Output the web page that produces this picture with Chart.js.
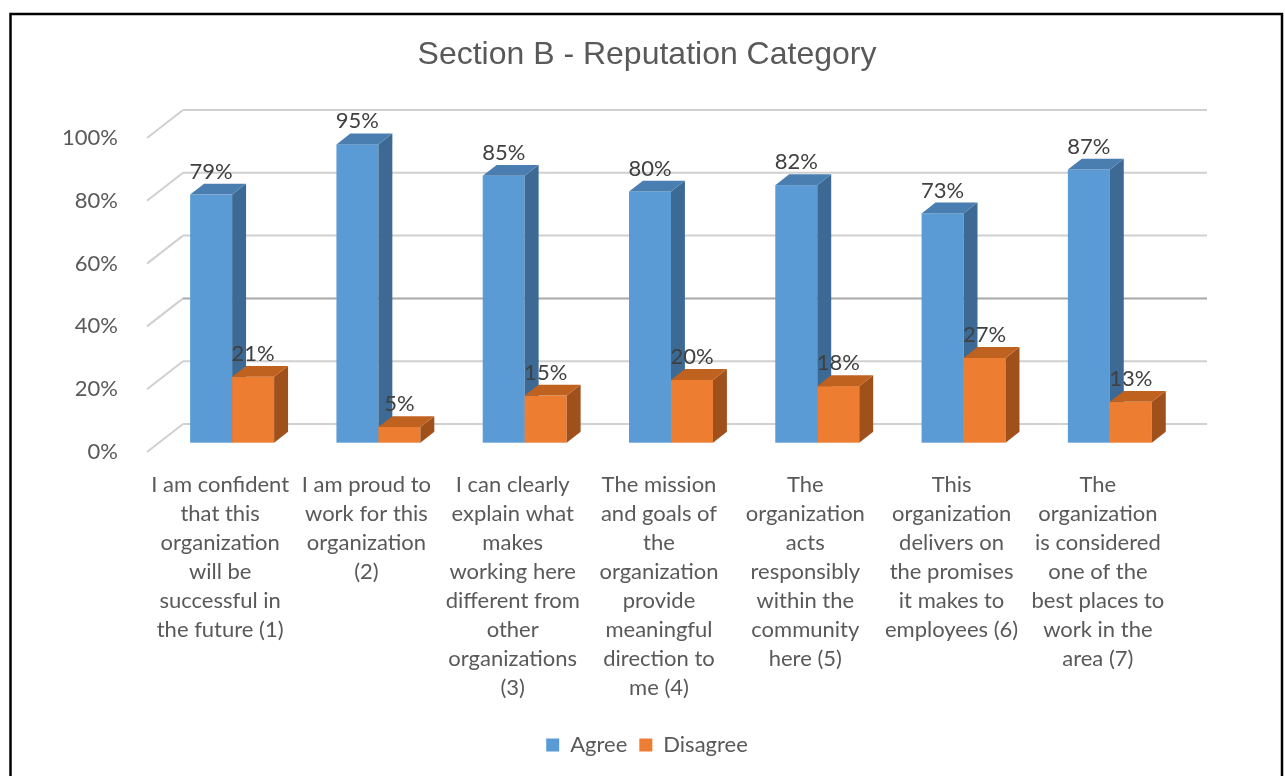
<!DOCTYPE html>
<html>
<head>
<meta charset="utf-8">
<title>Section B - Reputation Category</title>
<script src="https://cdn.jsdelivr.net/npm/chart.js@4/dist/chart.umd.min.js"></script>
<style>
  html, body { margin: 0; padding: 0; background: #ffffff; }
  canvas { display: block; }
</style>
</head>
<body>
<canvas id="chart" width="1285" height="776"></canvas>
<script>
// Survey statements (multi-line category labels)
const categories = [
  ["I am confident", "that this", "organization", "will be", "successful in", "the future (1)"],
  ["I am proud to", "work for this", "organization", "(2)"],
  ["I can clearly", "explain what", "makes", "working here", "different from", "other", "organizations", "(3)"],
  ["The mission", "and goals of", "the", "organization", "provide", "meaningful", "direction to", "me (4)"],
  ["The", "organization", "acts", "responsibly", "within the", "community", "here (5)"],
  ["This", "organization", "delivers on", "the promises", "it makes to", "employees (6)"],
  ["The", "organization", "is considered", "one of the", "best places to", "work in the", "area (7)"]
];

// Share of respondents, in percent
const agreeValues    = [79, 95, 85, 80, 82, 73, 87];
const disagreeValues = [21, 5, 15, 20, 18, 27, 13];

// Value axis
const yTickValues = [0, 20, 40, 60, 80, 100];

const FONT = "Lato, 'Open Sans', sans-serif";

// Face colours for the extruded columns: front, top, side
const faces = [
  { front: '#5B9BD5', top: '#4A7EB0', side: '#3C6A94' },
  { front: '#ED7D31', top: '#C0621F', side: '#A0501A' }
];

// Depth of the floor/walls in screen pixels
const DEPTH_X = 36, DEPTH_Y = -28;
// Columns sit between these depth fractions
const COL_FRONT = 0.333, COL_BACK = 0.72;

function project(d) { return { dx: DEPTH_X * d, dy: DEPTH_Y * d }; }

const perspectivePlugin = {
  id: 'perspective3d',
  beforeDatasetsDraw(chart) {
    const { ctx, chartArea, scales } = chart;
    const y = scales.y;
    const back = project(1);

    // walls: slanted side edge plus back-wall gridline for each tick
    ctx.save();
    ctx.lineWidth = 2;
    yTickValues.forEach(v => {
      const py = y.getPixelForValue(v);
      ctx.strokeStyle = '#D0D0D0';
      ctx.beginPath();
      ctx.moveTo(chartArea.left, py);
      ctx.lineTo(chartArea.left + back.dx, py + back.dy);
      ctx.stroke();
      ctx.strokeStyle = v === 40 ? '#A8A8A8' : '#D0D0D0';
      ctx.beginPath();
      ctx.moveTo(chartArea.left + back.dx, py + back.dy);
      ctx.lineTo(chartArea.right + back.dx, py + back.dy);
      ctx.stroke();
    });
    ctx.restore();

    // columns, category by category so neighbouring faces overlap correctly
    const f = project(COL_FRONT), b = project(COL_BACK);
    const metas = chart.data.datasets.map((_, i) => chart.getDatasetMeta(i));
    const n = chart.data.labels.length;
    ctx.save();
    for (let i = 0; i < n; i++) {
      metas.forEach((meta, di) => {
        const el = meta.data[i];
        const { x, y: top, base, width } = el.getProps(['x', 'y', 'base', 'width'], true);
        const x0 = x - width / 2, x1 = x + width / 2;
        const c = faces[di];
        // front
        ctx.fillStyle = c.front;
        ctx.fillRect(x0 + f.dx, top + f.dy, x1 - x0, base - top);
        // side
        ctx.fillStyle = c.side;
        ctx.beginPath();
        ctx.moveTo(x1 + f.dx, top + f.dy);
        ctx.lineTo(x1 + b.dx, top + b.dy);
        ctx.lineTo(x1 + b.dx, base + b.dy);
        ctx.lineTo(x1 + f.dx, base + f.dy);
        ctx.closePath();
        ctx.fill();
        // top
        ctx.fillStyle = c.top;
        ctx.beginPath();
        ctx.moveTo(x0 + f.dx, top + f.dy);
        ctx.lineTo(x0 + b.dx, top + b.dy);
        ctx.lineTo(x1 + b.dx, top + b.dy);
        ctx.lineTo(x1 + f.dx, top + f.dy);
        ctx.closePath();
        ctx.fill();
      });
    }

    // value labels above each column
    ctx.fillStyle = '#404040';
    ctx.font = '22px ' + FONT;
    ctx.textAlign = 'center';
    ctx.textBaseline = 'middle';
    metas.forEach((meta, di) => {
      const values = chart.data.datasets[di].data;
      meta.data.forEach((el, i) => {
        const { x, y: top } = el.getProps(['x', 'y'], true);
        ctx.fillText(values[i] + '%', x + f.dx, top + f.dy - 23);
      });
    });
    ctx.restore();
    return false;
  },
  afterDraw(chart) {
    const { ctx } = chart;
    ctx.save();
    ctx.strokeStyle = '#000000';
    ctx.lineWidth = 2.5;
    ctx.strokeRect(10.5, 14, 1271.5, 800);
    ctx.restore();
  }
};

new Chart(document.getElementById('chart'), {
  type: 'bar',
  data: {
    labels: categories,
    datasets: [
      { label: 'Agree', data: agreeValues, backgroundColor: faces[0].front, borderWidth: 0 },
      { label: 'Disagree', data: disagreeValues, backgroundColor: faces[1].front, borderWidth: 0 }
    ]
  },
  options: {
    responsive: false,
    animation: false,
    layout: { padding: { left: 9, right: 0, top: 0, bottom: 10 } },
    datasets: { bar: { categoryPercentage: 0.574, barPercentage: 1 } },
    scales: {
      x: {
        grid: { display: false },
        border: { display: false },
        ticks: {
          color: '#595959',
          font: { family: FONT, size: 22, lineHeight: '29px' },
          padding: 10,
          maxRotation: 0,
          autoSkip: false
        },
        afterFit(scale) { scale.height = 270; }
      },
      y: {
        min: 0,
        max: 100,
        grid: { display: false },
        border: { display: false },
        afterBuildTicks(scale) { scale.ticks = yTickValues.map(v => ({ value: v })); },
        ticks: {
          color: '#595959',
          font: { family: FONT, size: 22 },
          padding: 21,
          callback: v => v + '%'
        },
        afterFit(scale) { scale.width = 138; }
      },
      spacer: {
        position: 'right',
        display: true,
        grid: { display: false },
        border: { display: false },
        ticks: { display: false },
        afterFit(scale) { scale.width = 114; }
      }
    },
    plugins: {
      title: {
        display: true,
        text: 'Section B - Reputation Category',
        color: '#595959',
        font: { family: "'Liberation Sans', Arial, sans-serif", size: 32, weight: 'normal', lineHeight: 1.2 },
        padding: { top: 36, bottom: 63.6 }
      },
      legend: {
        position: 'bottom',
        labels: {
          color: '#595959',
          font: { family: FONT, size: 22 },
          boxWidth: 13,
          boxHeight: 13,
          padding: 12
        }
      },
      tooltip: { enabled: false }
    }
  },
  plugins: [perspectivePlugin]
});
</script>
</body>
</html>
